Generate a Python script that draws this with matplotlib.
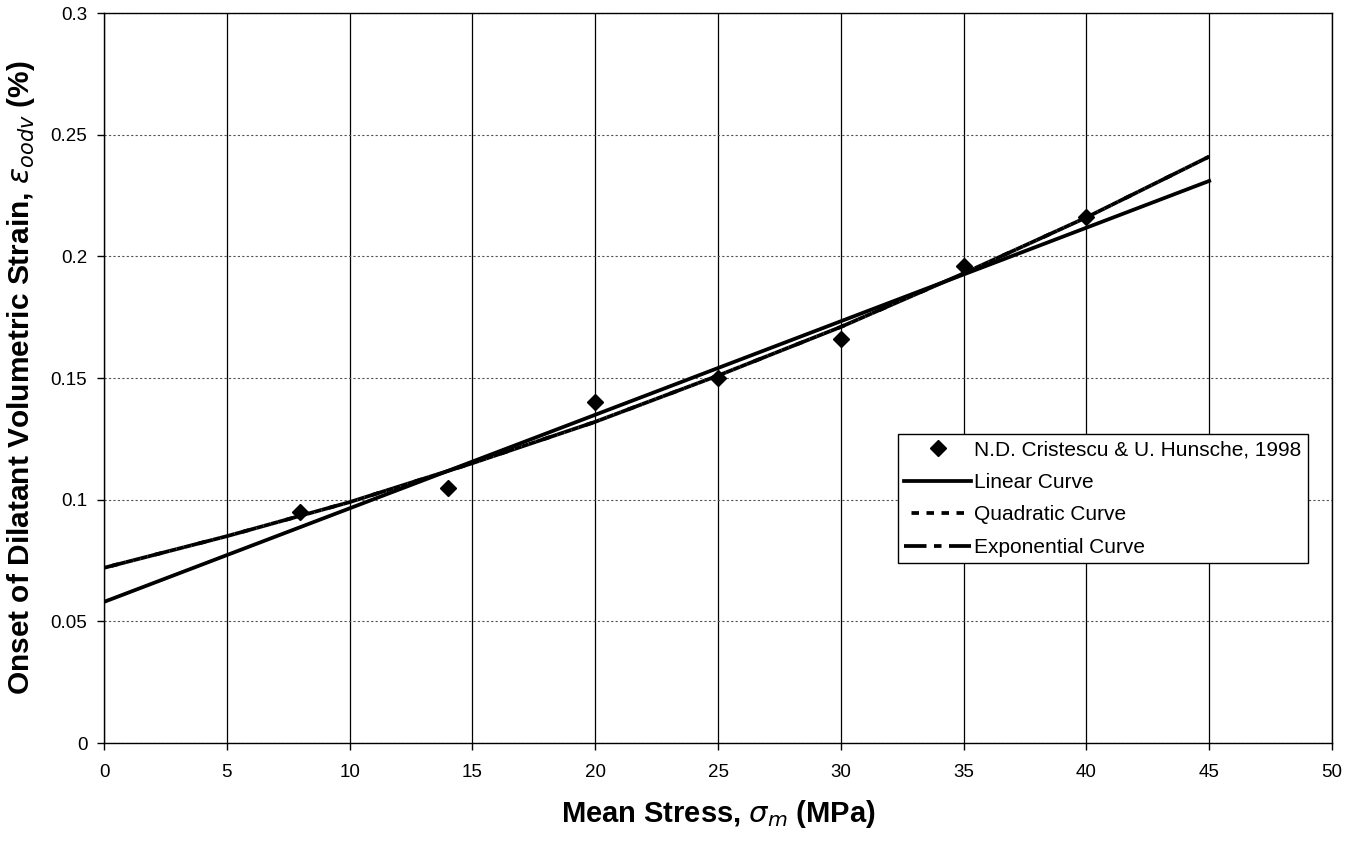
import matplotlib
matplotlib.use("Agg")
import matplotlib.pyplot as plt

# Measured points (N.D. Cristescu & U. Hunsche, 1998)
stress = [8, 14, 20, 25, 30, 35, 40]
strain = [0.095, 0.105, 0.140, 0.150, 0.166, 0.196, 0.216]

# Fitted curves
linear_x = [0, 45]
linear_y = [0.058, 0.231]
curve_x = [0, 5, 10, 15, 20, 25, 30, 35, 40, 45]
quad_y = [0.072, 0.085, 0.099, 0.115, 0.132, 0.151, 0.171, 0.193, 0.216, 0.241]
expo_y = [0.072, 0.085, 0.099, 0.115, 0.132, 0.151, 0.171, 0.193, 0.216, 0.241]

x_ticks = [0, 5, 10, 15, 20, 25, 30, 35, 40, 45, 50]
y_ticks = [0, 0.05, 0.1, 0.15, 0.2, 0.25, 0.3]
y_labels = ["0", "0.05", "0.1", "0.15", "0.2", "0.25", "0.3"]

plt.rcParams["font.family"] = ["Liberation Sans", "DejaVu Sans"]

fig = plt.figure(figsize=(13.56, 8.41), dpi=100)
ax = fig.add_axes([0.0767, 0.1165, 0.9056, 0.868])

ax.plot(stress, strain, linestyle="none", marker="D", markersize=8,
        color="black", label="N.D. Cristescu & U. Hunsche, 1998", zorder=5)
ax.plot(linear_x, linear_y, color="black", lw=2.7, label="Linear Curve", zorder=4)
# the two dash patterns fill each other's gaps, so the overlapping curves read as one line
ax.plot(curve_x, quad_y, color="black", lw=2.7, linestyle=(2, (2, 2)),
        label="Quadratic Curve", zorder=4)
ax.plot(curve_x, expo_y, color="black", lw=2.7, linestyle=(0, (6, 2, 2, 2)),
        label="Exponential Curve", zorder=4)

ax.set_xlim(0, 50)
ax.set_ylim(0, 0.3)
ax.set_xticks(x_ticks)
ax.set_yticks(y_ticks)
ax.set_yticklabels(y_labels)
ax.tick_params(direction="out", length=5, width=1, labelsize=13.5)
ax.tick_params(axis="x", pad=10)
ax.tick_params(axis="y", pad=7)

# vertical grid solid, horizontal grid dotted grey
ax.xaxis.grid(True, color="black", lw=0.9, linestyle="-")
ax.yaxis.grid(True, color="#555555", lw=0.8, linestyle=(0, (2, 2)))
ax.set_axisbelow(True)
for sp in ax.spines.values():
    sp.set_linewidth(1.0)
    sp.set_color("black")

ax.set_xlabel(r"Mean Stress, $\sigma_m$ (MPa)", fontsize=21, fontweight="bold",
              labelpad=12)
ax.set_ylabel(r"Onset of Dilatant Volumetric Strain, $\varepsilon_{oodv}$ (%)",
              fontsize=21.5, fontweight="bold", labelpad=10)

leg = ax.legend(loc="upper left", bbox_to_anchor=(0.6466, 0.4233), fontsize=15,
                frameon=True, fancybox=False, edgecolor="black", framealpha=1,
                handlelength=3.2, handletextpad=0.15, borderpad=0.3,
                labelspacing=0.65, borderaxespad=0)
leg.get_frame().set_linewidth(1.0)

fig.savefig("out.png", dpi=100)
